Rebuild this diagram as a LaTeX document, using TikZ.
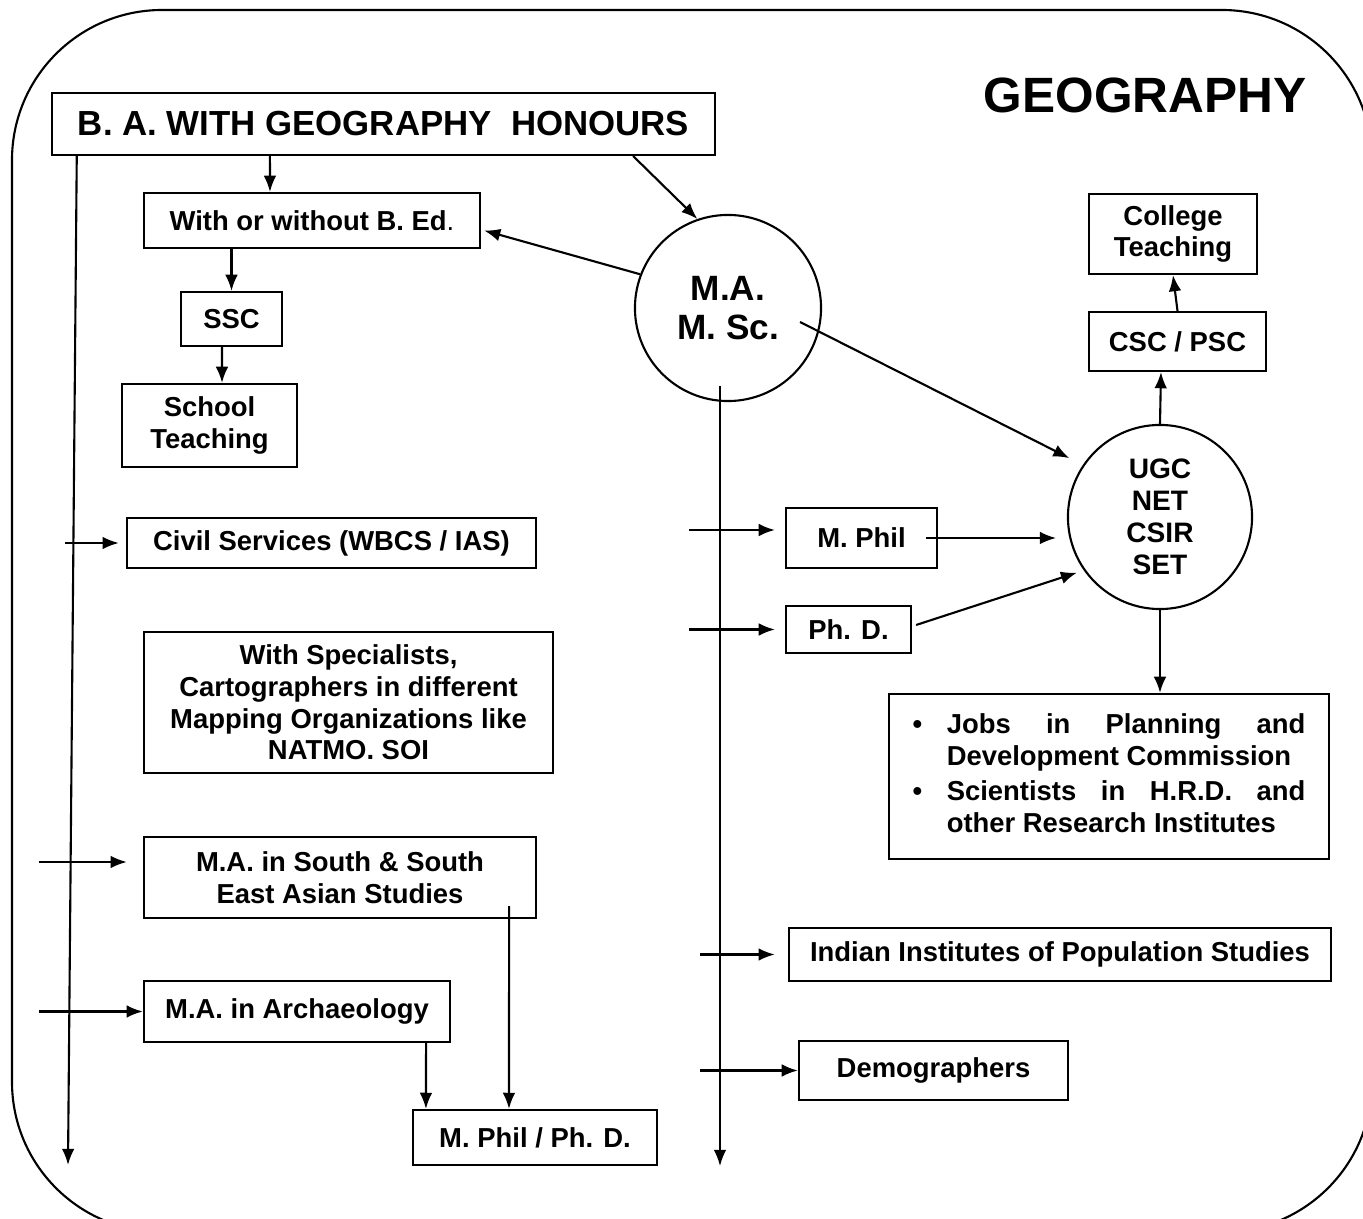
\documentclass[tikz,border=0pt]{standalone}
\usepackage{fontspec}
\setmainfont{Liberation Sans}
\usetikzlibrary{arrows.meta}
\newcommand{\boxfont}{\fontsize{7.8}{9}\selectfont\bfseries}

\begin{document}
\begin{tikzpicture}[x=0.01cm, y=-0.01cm, >={Latex[length=4.6pt,width=3.6pt]}, line width=0.6pt,
  box/.style={draw, font=\boxfont, align=center, inner sep=0pt},
  ring/.style={draw, circle, inner sep=0pt, align=center, font=\bfseries}]
\useasboundingbox (0,0) rectangle (1363,1219);
% frame
\begin{scope}
\clip (0,0) rectangle (1363,1219);
\draw[rounded corners=1.5cm] (12,10) rectangle (1372,1232);
\end{scope}
\node[font=\fontsize{14.1}{16}\selectfont\bfseries] (geo) at (1145,95) {GEOGRAPHY};
% left side
\node[box, minimum width=6.63cm, minimum height=0.62cm, font=\fontsize{9.9}{12}\selectfont\bfseries] (ba) at (383.5,124) {B. A. WITH GEOGRAPHY~~HONOURS};
\node[box, minimum width=3.36cm, minimum height=0.55cm] (bed) at (312,220.5) {With or without B. Ed{\mdseries .}};
\node[box, minimum width=1.01cm, minimum height=0.54cm] (ssc) at (231.5,319) {SSC};
\node[box, minimum width=1.75cm, minimum height=0.83cm] (school) at (209.5,425.5) {School\\Teaching};
\node[box, minimum width=4.09cm, minimum height=0.50cm] (civil) at (331.5,543) {Civil Services (WBCS / IAS)};
\node[box, minimum width=4.09cm, minimum height=1.41cm] (spec) at (348.5,702.5) {With Specialists,\\Cartographers in different\\Mapping Organizations like\\NATMO. SOI};
\node[box, minimum width=3.92cm, minimum height=0.81cm] (south) at (340,877.5) {M.A. in South \& South\\East Asian Studies};
\node[box, minimum width=3.06cm, minimum height=0.61cm] (arch) at (297,1011.5) {M.A. in Archaeology};
\node[box, minimum width=2.44cm, minimum height=0.55cm] (mphd) at (535,1137.5) {M. Phil / Ph. D.};
% right side
\node[ring, minimum size=1.86cm, font=\fontsize{10}{11}\selectfont\bfseries] (ma) at (728,308) {M.A.\\M. Sc.};
\node[ring, minimum size=1.84cm, font=\fontsize{8}{9.1}\selectfont\bfseries] (ugc) at (1160,517) {UGC\\NET\\CSIR\\SET};
\node[box, minimum width=1.68cm, minimum height=0.80cm] (college) at (1173,234) {College\\Teaching};
\node[box, minimum width=1.77cm, minimum height=0.59cm] (csc) at (1177.5,341.5) {CSC / PSC};
\node[box, minimum width=1.51cm, minimum height=0.60cm] (mphil) at (861.5,538) {M. Phil};
\node[box, minimum width=1.25cm, minimum height=0.47cm] (phd) at (848.5,629.5) {Ph. D.};
\node[box, minimum width=4.40cm, minimum height=1.65cm, fill=white] (jobs) at (1109,776.5) {%
  \begin{tabular}{@{}l@{\hspace{7pt}}p{102pt}@{}}
  \textbullet & Jobs\hfill in\hfill Planning\hfill and\newline Development Commission\\[1pt]
  \textbullet & Scientists\hfill in\hfill H.R.D.\hfill and\newline other Research Institutes
  \end{tabular}};
\node[box, minimum width=5.42cm, minimum height=0.53cm] (iips) at (1060,954.5) {Indian Institutes of Population Studies};
\node[box, minimum width=2.69cm, minimum height=0.59cm] (demo) at (933.5,1070.5) {Demographers};
% connectors, left
\draw[->] ([xshift=0.26cm]ba.south west) -- (68,1165);
\draw[->] ([xshift=-1.135cm]ba.south) -- ([xshift=-0.42cm]bed.north);
\draw[->] ([xshift=2.495cm]ba.south) -- (ma.109);
\draw[->] (ma.159) -- ([xshift=0.03cm,yshift=-0.1cm]bed.east);
\draw[->] (ssc.north |- bed.south) -- (ssc.north);
\draw[->] ([xshift=-0.095cm]ssc.south) -- ([xshift=0.125cm]school.north);
\draw[<-] ([xshift=-0.07cm]civil.west) -- ++(-54,0);
\draw[<-] ([xshift=-0.16cm,yshift=0.155cm]south.west) -- ++(-88,0);
\draw[<-] (arch.west) -- ++(-104,0);
\draw[->] ([xshift=1.69cm,yshift=0.13cm]south.south) -- ([xshift=-0.26cm]mphd.north);
\draw[->] ([xshift=1.29cm]arch.south) -- ([xshift=-1.09cm]mphd.north);
% connectors, right
\draw[->] ([xshift=-0.08cm,yshift=0.16cm]ma.south) -- ++(0,780);
\draw[<-] ([xshift=-0.1cm,yshift=0.08cm]mphil.west) -- ++(-86,0);
\draw[<-] ([xshift=-0.1cm]phd.west) -- ++(-86,0);
\draw[<-] ([xshift=-0.13cm]iips.west) -- ++(-75,0);
\draw[<-] (demo.west) -- ++(-98,0);
\draw[->] ([xshift=-0.12cm]mphil.east) -- ++(130,0);
\draw[->, shorten >=2pt] ([xshift=0.04cm,yshift=0.045cm]phd.east) -- (ugc.215);
\draw[->, shorten >=0.15cm] ([xshift=0.72cm,yshift=-0.14cm]ma.center) -- (ugc.146);
\draw[->] (ugc.north) -- ([xshift=-0.165cm]csc.south);
\draw[->] (csc.north) -- (college.south);
\draw[->] (ugc.south) -- (ugc.south |- jobs.north);
\end{tikzpicture}
\end{document}
